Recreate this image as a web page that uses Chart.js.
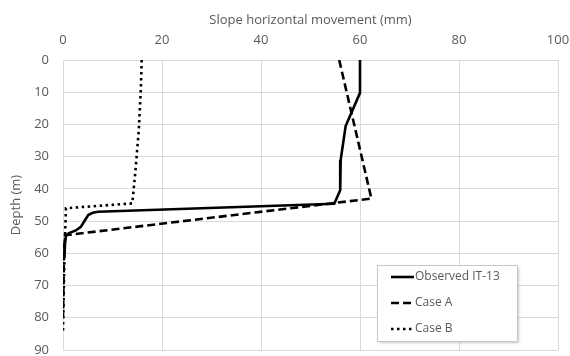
<!DOCTYPE html>
<html>
<head>
<meta charset="utf-8">
<script src="https://cdn.jsdelivr.net/npm/chart.js@4"></script>
<style>
  html, body { margin: 0; padding: 0; background: #fff; }
  canvas { display: block; }
</style>
</head>
<body>
<canvas id="chart" width="570" height="356"></canvas>
<script>
// values (movement in mm, depth in m)
const xTicks = [0, 20, 40, 60, 80, 100];
const yTicks = [0, 10, 20, 30, 40, 50, 60, 70, 80, 90];

const seriesNames = ["Observed IT-13", "Case A", "Case B"];

const observedMovement = [60, 60, 57.1, 56.1, 56.0, 54.8, 7.1, 6.0, 5.1, 4.4, 3.6, 2.6, 1.2, 0.6, 0.4, 0.3];
const observedDepth = [0, 10.2, 20.5, 31, 40.4, 44.6, 47.1, 47.4, 48.1, 49.8, 51.8, 52.9, 53.7, 54.5, 57, 61];

const caseAMovement = [55.8, 62.3, 0.4, 0.2, 0];
const caseADepth = [0, 43, 54.4, 60, 80];

const caseBMovement = [15.9, 15.7, 15.3, 14.6, 14.0, 0.6, 0.3, 0];
const caseBDepth = [0, 10, 22, 35, 44.5, 46, 60, 84];

const FONT = "'Open Sans', sans-serif";
const TEXT = "#595959";
const GRID = "#d9d9d9";

function toPoints(xs, ys) {
  return xs.map((x, i) => ({ x, y: ys[i] }));
}

const lineStyles = [
  { dash: [], width: 2.6 },
  { dash: [8, 4], width: 2.6 },
  { dash: [2.5, 3.5], width: 2.6 },
];

// legend box drawn inside the plot, lower right
const boxLegend = {
  id: "boxLegend",
  afterDraw(chart) {
    const ctx = chart.ctx;
    const area = chart.chartArea;
    const left = area.left + 314;
    const top = area.top + 205;
    const w = 140, h = 76;
    ctx.save();
    ctx.shadowColor = "rgba(0,0,0,0.3)";
    ctx.shadowBlur = 3;
    ctx.shadowOffsetX = 1.5;
    ctx.shadowOffsetY = 1.5;
    ctx.fillStyle = "#fff";
    ctx.fillRect(left, top, w, h);
    ctx.shadowColor = "transparent";
    ctx.strokeStyle = "#c8c8c8";
    ctx.lineWidth = 1;
    ctx.strokeRect(left + 0.5, top + 0.5, w, h);
    ctx.font = "12px " + FONT;
    ctx.textBaseline = "middle";
    seriesNames.forEach((name, i) => {
      const y = top + 12 + i * 26;
      ctx.beginPath();
      ctx.setLineDash(lineStyles[i].dash);
      ctx.lineWidth = lineStyles[i].width;
      ctx.strokeStyle = "#000";
      ctx.moveTo(left + 14, y);
      ctx.lineTo(left + 37, y);
      ctx.stroke();
      ctx.setLineDash([]);
      ctx.fillStyle = TEXT;
      ctx.fillText(name, left + 38, y);
    });
    ctx.restore();
  },
};

const datasets = [
  toPoints(observedMovement, observedDepth),
  toPoints(caseAMovement, caseADepth),
  toPoints(caseBMovement, caseBDepth),
].map((pts, i) => ({
  label: seriesNames[i],
  data: pts,
  showLine: true,
  borderColor: "#000",
  borderWidth: lineStyles[i].width,
  borderDash: lineStyles[i].dash,
  pointRadius: 0,
  tension: 0,
  fill: false,
}));

new Chart(document.getElementById("chart"), {
  type: "scatter",
  data: { datasets },
  options: {
    responsive: false,
    animation: false,
    layout: { autoPadding: false, padding: { left: 0, top: 0, right: 12, bottom: 6 } },
    plugins: { legend: { display: false }, tooltip: { enabled: false } },
    scales: {
      x: {
        type: "linear",
        position: "top",
        min: 0,
        max: 100,
        afterBuildTicks: (scale) => { scale.ticks = xTicks.map((v) => ({ value: v })); },
        afterFit: (scale) => {
          scale.height = 60;
          scale.paddingLeft = 0;
          scale.paddingRight = 0;
        },
        ticks: { color: TEXT, font: { family: FONT, size: 13 }, padding: 12 },
        grid: { color: GRID, drawTicks: false },
        border: { color: GRID },
        title: {
          display: true,
          text: "Slope horizontal movement (mm)",
          color: TEXT,
          font: { family: FONT, size: 13 },
          padding: { top: 12, bottom: 0 },
        },
      },
      y: {
        type: "linear",
        reverse: true,
        min: 0,
        max: 90,
        afterBuildTicks: (scale) => { scale.ticks = yTicks.map((v) => ({ value: v })); },
        afterFit: (scale) => {
          scale.width = 63;
          scale.paddingTop = 0;
          scale.paddingBottom = 0;
        },
        ticks: { color: TEXT, font: { family: FONT, size: 13 }, padding: 14 },
        grid: { color: GRID, drawTicks: false },
        border: { color: GRID },
        title: {
          display: true,
          text: "Depth (m)",
          color: TEXT,
          font: { family: FONT, size: 13 },
          padding: { top: 8, bottom: 0 },
        },
      },
    },
  },
  plugins: [boxLegend],
});
</script>
</body>
</html>
